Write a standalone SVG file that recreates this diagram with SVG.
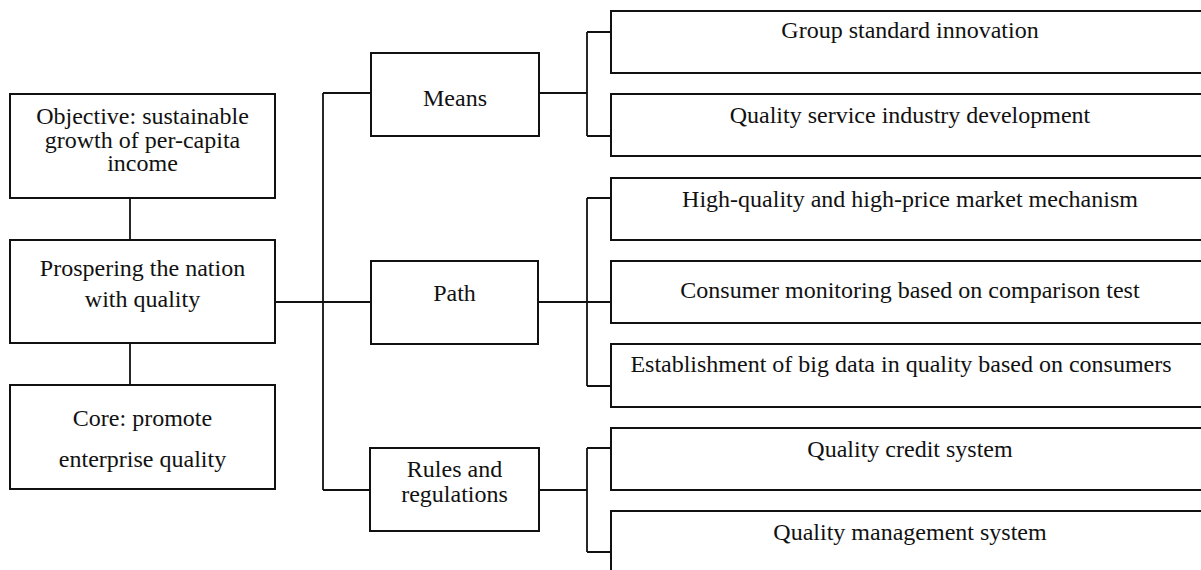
<svg xmlns="http://www.w3.org/2000/svg" width="1201" height="570" viewBox="0 0 1201 570">
<style>
.box{fill:#fff;stroke:#111;stroke-width:2}
.ln{fill:none;stroke:#111;stroke-width:1.8}
text{font-family:"Liberation Serif","Times New Roman",serif;font-size:24px;fill:#111;text-anchor:middle}
</style>
<rect width="1201" height="570" fill="#fff"/>
<g id="connectors">
<path class="ln" d="M130 198V240M130 343V385"/>
<path class="ln" d="M275 302H371M323 93V490M323 93H371M323 490H370"/>
<path class="ln" d="M539 93H587M587 32V136M587 32H611M587 136H611"/>
<path class="ln" d="M538 302H611M587 198V386M587 198H611M587 386H611"/>
<path class="ln" d="M539 490H587M587 448V552M587 448H611M587 552H611"/>
</g>
<g id="objective"><rect class="box" x="10" y="94" width="265" height="104"/>
<text x="142.5" y="124">Objective: sustainable</text><text x="142.5" y="147.5">growth of per-capita</text><text x="142.5" y="171">income</text></g>
<g id="prospering"><rect class="box" x="10" y="240" width="265" height="103"/>
<text x="142.5" y="275.5">Prospering the nation</text><text x="142.5" y="307">with quality</text></g>
<g id="core"><rect class="box" x="10" y="385" width="265" height="104"/>
<text x="142.5" y="426">Core: promote</text><text x="142.5" y="467">enterprise quality</text></g>
<g id="means"><rect class="box" x="371" y="53" width="168" height="83"/><text x="455" y="106">Means</text></g>
<g id="path"><rect class="box" x="371" y="261" width="167" height="83"/><text x="454.5" y="301">Path</text></g>
<g id="rules"><rect class="box" x="370" y="448" width="169" height="83"/><text x="454.5" y="477">Rules and</text><text x="454.5" y="502">regulations</text></g>
<g id="r1"><rect class="box" x="611" y="11" width="600" height="62"/><text x="910" y="38">Group standard innovation</text></g>
<g id="r2"><rect class="box" x="611" y="94" width="600" height="62"/><text x="910" y="123">Quality service industry development</text></g>
<g id="r3"><rect class="box" x="611" y="178" width="600" height="62"/><text x="910" y="207">High-quality and high-price market mechanism</text></g>
<g id="r4"><rect class="box" x="611" y="261" width="600" height="62"/><text x="910" y="298">Consumer monitoring based on comparison test</text></g>
<g id="r5"><rect class="box" x="611" y="344" width="600" height="63"/><text x="901" y="372">Establishment of big data in quality based on consumers</text></g>
<g id="r6"><rect class="box" x="611" y="428" width="600" height="62"/><text x="910" y="457">Quality credit system</text></g>
<g id="r7"><rect class="box" x="611" y="511" width="600" height="80"/><text x="910" y="540">Quality management system</text></g>
</svg>
